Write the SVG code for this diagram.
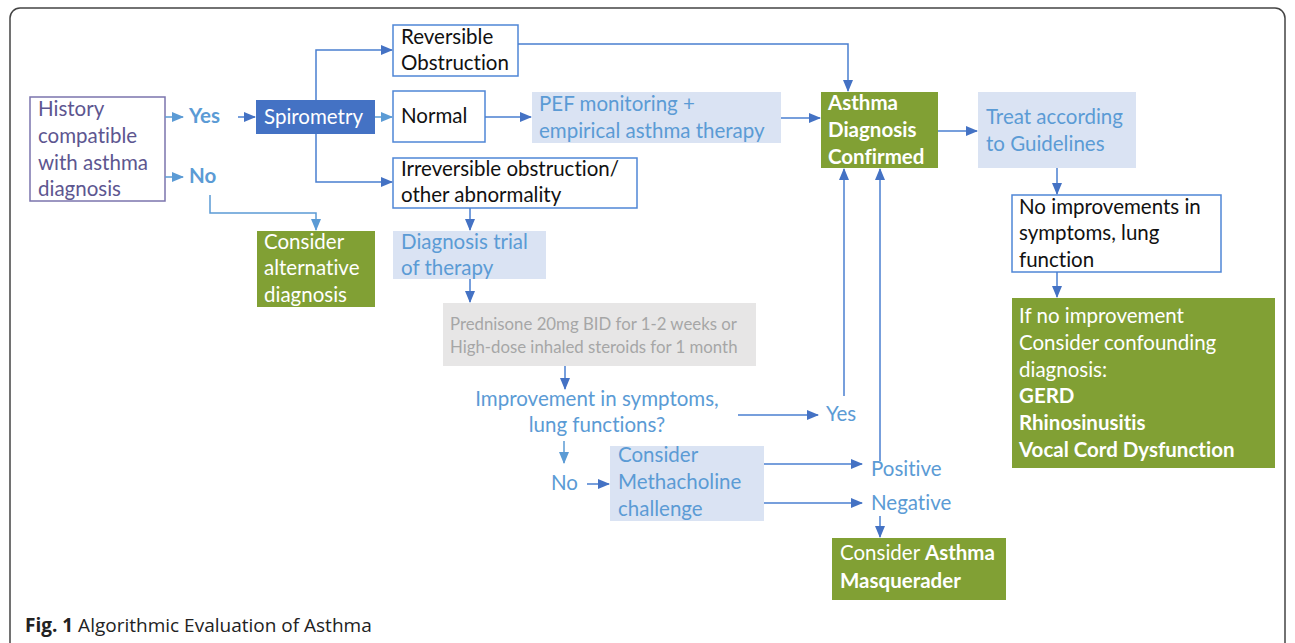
<svg xmlns="http://www.w3.org/2000/svg" width="1295" height="643" viewBox="0 0 1295 643">
<defs>
<marker id="ah" markerWidth="12" markerHeight="10" refX="11" refY="5" orient="auto" markerUnits="userSpaceOnUse">
<path d="M0,0 L12,5 L0,10 Z" fill="#4472c4"/>
</marker>
<marker id="ahl" markerWidth="12" markerHeight="10" refX="11" refY="5" orient="auto" markerUnits="userSpaceOnUse">
<path d="M0,0 L12,5 L0,10 Z" fill="#5b9bd5"/>
</marker>
</defs>
<style>
text{font-family:Lato,"Open Sans","Liberation Sans",sans-serif;font-size:20.5px;font-variant-ligatures:none;font-feature-settings:"liga" 0}
.blk{fill:#111}
.wh{fill:#fff}
.bl{fill:#5b9bd5}
.pu{fill:#5d5690}
.gr{fill:#a6a6a6;font-size:16.8px}
.b{font-weight:bold}
.wbox{fill:#fff;stroke:#4f86d6;stroke-width:1.5}
.lbox{fill:#dae3f3}
.olive{fill:#81a034}
.c{fill:none;stroke:#4a7fd0;stroke-width:1.5}
.cl{fill:none;stroke:#5b9bd5;stroke-width:1.5}
.cap{font-family:"Open Sans","Liberation Sans",sans-serif;font-size:19px;fill:#222}
</style>
<rect x="10" y="8" width="1275" height="660" rx="10" fill="#fff" stroke="#444" stroke-width="1.5"/>

<g id="history">
<rect x="30" y="97" width="135" height="104" fill="#fff" stroke="#7b74ad" stroke-width="1.5"/>
<text class="pu" x="38" y="116">History</text>
<text class="pu" x="38" y="143">compatible</text>
<text class="pu" x="38" y="170">with asthma</text>
<text class="pu" x="38" y="196">diagnosis</text>
</g>
<g id="yes1"><text class="bl b" x="189" y="123">Yes</text></g>
<g id="no1"><text class="bl b" x="189" y="183">No</text></g>
<g id="spirometry">
<rect x="256" y="100" width="119" height="34" fill="#4472c4"/>
<text class="wh" x="264" y="124">Spirometry</text>
</g>
<g id="reversible">
<rect class="wbox" x="393" y="25" width="125" height="51"/>
<text class="blk" x="401" y="44">Reversible</text>
<text class="blk" x="401" y="70">Obstruction</text>
</g>
<g id="normal">
<rect class="wbox" x="393" y="91" width="92" height="51"/>
<text class="blk" x="401" y="123">Normal</text>
</g>
<g id="irreversible">
<rect class="wbox" x="393" y="158" width="244" height="50"/>
<text class="blk" x="401" y="176">Irreversible obstruction/</text>
<text class="blk" x="401" y="202">other abnormality</text>
</g>
<g id="pef">
<rect class="lbox" x="532" y="92" width="249" height="51"/>
<text class="bl" x="539" y="111">PEF monitoring +</text>
<text class="bl" x="539" y="138">empirical asthma therapy</text>
</g>
<g id="alternative">
<rect class="olive" x="257" y="231" width="118" height="76"/>
<text class="wh" x="264" y="249">Consider</text>
<text class="wh" x="264" y="275">alternative</text>
<text class="wh" x="264" y="302">diagnosis</text>
</g>
<g id="trial">
<rect class="lbox" x="393" y="231" width="153" height="48"/>
<text class="bl" x="401" y="249">Diagnosis trial</text>
<text class="bl" x="401" y="275">of therapy</text>
</g>
<g id="prednisone">
<rect x="443" y="303" width="313" height="63" fill="#e7e6e6"/>
<text class="gr" x="450" y="330">Prednisone 20mg BID for 1-2 weeks or</text>
<text class="gr" x="450" y="353">High-dose inhaled steroids for 1 month</text>
</g>
<g id="improvement">
<text class="bl" x="597" y="406" text-anchor="middle">Improvement in symptoms,</text>
<text class="bl" x="597" y="432" text-anchor="middle">lung functions?</text>
</g>
<g id="yes2"><text class="bl" x="826" y="421">Yes</text></g>
<g id="no2"><text class="bl" x="551" y="490">No</text></g>
<g id="methacholine">
<rect class="lbox" x="610" y="446" width="154" height="75"/>
<text class="bl" x="618" y="462">Consider</text>
<text class="bl" x="618" y="489">Methacholine</text>
<text class="bl" x="618" y="516">challenge</text>
</g>
<g id="positive"><text class="bl" x="871" y="476">Positive</text></g>
<g id="negative"><text class="bl" x="871" y="510">Negative</text></g>
<g id="masquerader">
<rect class="olive" x="832" y="538" width="174" height="62"/>
<text class="wh" x="840" y="560">Consider <tspan class="b">Asthma</tspan></text>
<text class="wh b" x="840" y="588">Masquerader</text>
</g>
<g id="confirmed">
<rect class="olive" x="821" y="92" width="117" height="76"/>
<text class="wh b" x="828" y="110">Asthma</text>
<text class="wh b" x="828" y="137">Diagnosis</text>
<text class="wh b" x="828" y="164">Confirmed</text>
</g>
<g id="treat">
<rect class="lbox" x="978" y="92" width="158" height="76"/>
<text class="bl" x="986" y="124">Treat according</text>
<text class="bl" x="986" y="151">to Guidelines</text>
</g>
<g id="noimprove">
<rect class="wbox" x="1012" y="195" width="209" height="77"/>
<text class="blk" x="1019" y="214">No improvements in</text>
<text class="blk" x="1019" y="240">symptoms, lung</text>
<text class="blk" x="1019" y="267">function</text>
</g>
<g id="confounding">
<rect class="olive" x="1012" y="298" width="263" height="170"/>
<text class="wh" x="1019" y="323">If no improvement</text>
<text class="wh" x="1019" y="350">Consider confounding</text>
<text class="wh" x="1019" y="377">diagnosis:</text>
<text class="wh b" x="1019" y="403">GERD</text>
<text class="wh b" x="1019" y="430">Rhinosinusitis</text>
<text class="wh b" x="1019" y="457">Vocal Cord Dysfunction</text>
</g>

<g id="connectors">
<path class="cl" d="M165,117 H183" marker-end="url(#ahl)"/>
<path class="cl" d="M165,177 H183" marker-end="url(#ahl)"/>
<path class="c" d="M238,117 H255" marker-end="url(#ah)"/>
<path class="cl" d="M375,117 H392" marker-end="url(#ahl)"/>
<path class="c" d="M316,100 V50 H392" marker-end="url(#ah)"/>
<path class="c" d="M316,134 V182 H392" marker-end="url(#ah)"/>
<path class="cl" d="M210,195 V213 H316 V230" marker-end="url(#ahl)"/>
<path class="c" d="M518,44 H848 V91" marker-end="url(#ah)"/>
<path class="c" d="M485,117 H531" marker-end="url(#ah)"/>
<path class="c" d="M781,118 H820" marker-end="url(#ah)"/>
<path class="c" d="M470,208 V230" marker-end="url(#ah)"/>
<path class="c" d="M470,279 V302" marker-end="url(#ah)"/>
<path class="c" d="M565,366 V389" marker-end="url(#ah)"/>
<path class="c" d="M738,415 H818" marker-end="url(#ah)"/>
<path class="c" d="M844,396 V169" marker-end="url(#ah)"/>
<path class="c" d="M880,461 V169" marker-end="url(#ah)"/>
<path class="cl" d="M564,441 V463" marker-end="url(#ahl)"/>
<path class="c" d="M587,484 H609" marker-end="url(#ah)"/>
<path class="c" d="M764,464 H862" marker-end="url(#ah)"/>
<path class="c" d="M764,503 H862" marker-end="url(#ah)"/>
<path class="c" d="M880,516 V537" marker-end="url(#ah)"/>
<path class="c" d="M938,131 H977" marker-end="url(#ah)"/>
<path class="c" d="M1057,168 V194" marker-end="url(#ah)"/>
<path class="c" d="M1057,272 V297" marker-end="url(#ah)"/>
</g>

<text class="cap" x="25" y="632"><tspan font-weight="bold">Fig. 1</tspan> Algorithmic Evaluation of Asthma</text>
</svg>
